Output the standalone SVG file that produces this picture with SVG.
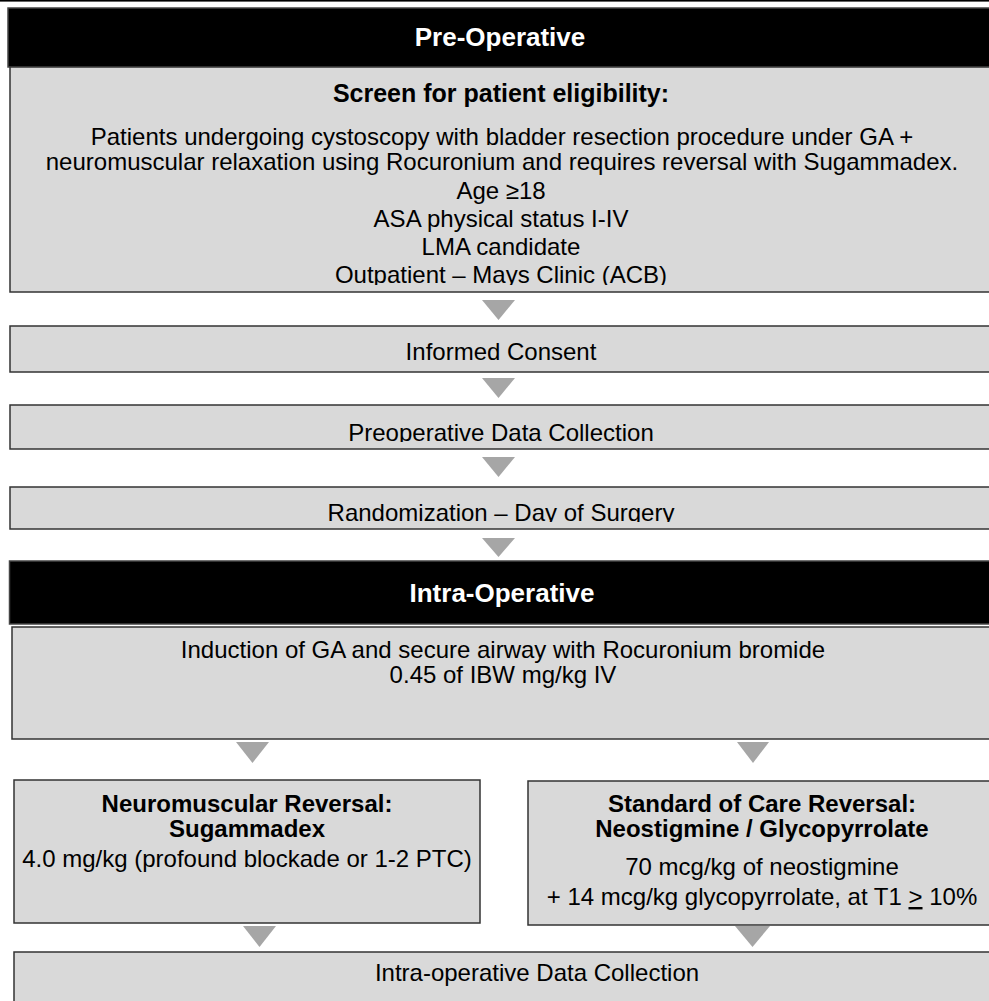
<svg xmlns="http://www.w3.org/2000/svg" width="989" height="1001" viewBox="0 0 989 1001">
<style>
text{font-family:"Liberation Sans",Arial,sans-serif;font-size:24px;fill:#000;text-anchor:middle}
.b{font-weight:bold}
.s{font-size:25px}
.w{fill:#fff;font-weight:bold;font-size:26px}
.hdr{fill:#000;stroke:#444;stroke-width:1.5}
.box{fill:#d9d9d9;stroke:#333;stroke-width:1.5}
.arr{fill:#a6a6a6}
</style>
<defs>
<clipPath id="c1"><rect x="10" y="67" width="990" height="218"/></clipPath>
<clipPath id="c3"><rect x="10" y="405" width="990" height="37"/></clipPath>
<clipPath id="c4"><rect x="10" y="487" width="990" height="35"/></clipPath>
</defs>
<rect x="0" y="0" width="989" height="1.6" fill="#000"/>
<g id="pre-op-header">
<rect class="hdr" x="8" y="8" width="992" height="59"/>
<text class="w" x="500" y="46">Pre-Operative</text>
</g>
<g id="screen">
<rect class="box" x="10" y="67" width="990" height="225"/>
<g clip-path="url(#c1)">
<text class="b s" x="501" y="102">Screen for patient eligibility:</text>
<text x="502" y="145">Patients undergoing cystoscopy with bladder resection procedure under GA +</text>
<text x="502" y="170">neuromuscular relaxation using Rocuronium and requires reversal with Sugammadex.</text>
<text x="501" y="199">Age ≥18</text>
<text x="501" y="227">ASA physical status I-IV</text>
<text x="501" y="255">LMA candidate</text>
<text x="501" y="283">Outpatient – Mays Clinic (ACB)</text>
</g>
</g>
<g id="consent">
<rect class="box" x="10" y="326" width="990" height="46"/>
<text x="501" y="360">Informed Consent</text>
</g>
<g id="preop-data">
<rect class="box" x="10" y="405" width="990" height="44"/>
<text x="501" y="441" clip-path="url(#c3)">Preoperative Data Collection</text>
</g>
<g id="randomization">
<rect class="box" x="10" y="487" width="990" height="42"/>
<text x="501" y="521" clip-path="url(#c4)">Randomization – Day of Surgery</text>
</g>
<g id="intra-op-header">
<rect class="hdr" x="9.5" y="561" width="992" height="63"/>
<text class="w" x="502" y="602">Intra-Operative</text>
</g>
<g id="induction">
<rect class="box" x="12" y="627" width="990" height="112"/>
<text x="503" y="658">Induction of GA and secure airway with Rocuronium bromide</text>
<text x="503" y="683">0.45 of IBW mg/kg IV</text>
</g>
<g id="sugammadex">
<rect class="box" x="14" y="780" width="466" height="143"/>
<text class="b" x="247" y="812">Neuromuscular Reversal:</text>
<text class="b" x="247" y="837">Sugammadex</text>
<text x="247" y="867">4.0 mg/kg (profound blockade or 1-2 PTC)</text>
</g>
<g id="standard-care">
<rect class="box" x="528" y="781" width="469" height="144"/>
<text class="b" x="762" y="812">Standard of Care Reversal:</text>
<text class="b" x="762" y="837">Neostigmine / Glycopyrrolate</text>
<text x="762" y="875">70 mcg/kg of neostigmine</text>
<text x="762" y="905">+ 14 mcg/kg glycopyrrolate, at T1 <tspan text-decoration="underline">&gt;</tspan> 10%</text>
</g>
<g id="intra-data">
<rect class="box" x="14" y="952" width="1046" height="60"/>
<text x="537" y="981">Intra-operative Data Collection</text>
</g>
<g id="connectors">
<polygon class="arr" points="482,300 515,300 498.5,320"/>
<polygon class="arr" points="482,378 515,378 498.5,398"/>
<polygon class="arr" points="482,457 515,457 498.5,477"/>
<polygon class="arr" points="482,538 515,538 498.5,557"/>
<polygon class="arr" points="236,742 269,742 252.5,763"/>
<polygon class="arr" points="737,742 769,742 753,763"/>
<polygon class="arr" points="243,926 276,926 259.5,947"/>
<polygon class="arr" points="735,926 770,926 752.5,947"/>
</g>
</svg>
